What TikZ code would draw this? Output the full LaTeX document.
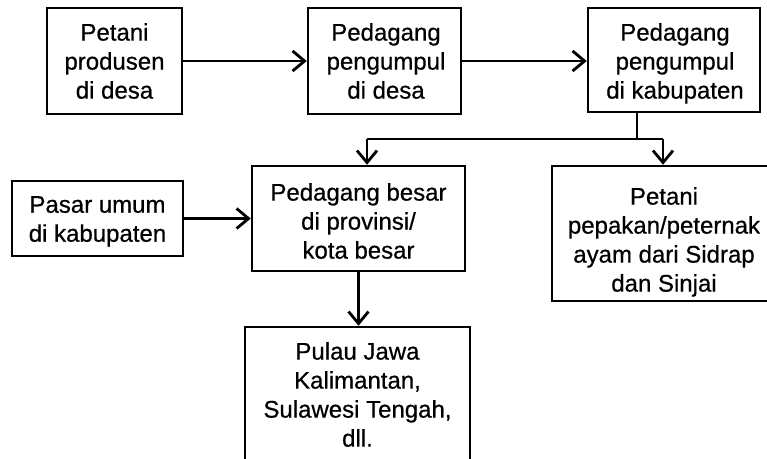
\documentclass[tikz,border=0pt]{standalone}
\usepackage{fontspec}
\setmainfont{Liberation Sans}
\newfontfamily\diagfont{Liberation Sans}[FakeBold=0.6]
\usetikzlibrary{arrows.meta}
\begin{document}
\begin{tikzpicture}[x=1pt,y=-1pt,
  box/.style={draw=black, line width=2.5pt, inner sep=0pt},
  txt/.style={inner sep=0pt, align=center, font=\diagfont\fontsize{24}{29}\selectfont, anchor=north},
  conn/.style={line width=2.8pt},
  arr/.style={conn, -{Straight Barb[length=12pt,width=20pt]}}]
\useasboundingbox (0,0) rectangle (767,458);
\clip (0,0) rectangle (767,458);
% boxes
\node[box, minimum width=135pt, minimum height=106pt] (b1) at (114.5,61) {};
\node[box, minimum width=153pt, minimum height=106pt] (b2) at (384.5,61) {};
\node[box, minimum width=172pt, minimum height=104pt] (b3) at (674,60) {};
\node[box, minimum width=171pt, minimum height=75pt] (b4) at (97.5,218.5) {};
\node[box, minimum width=213pt, minimum height=105pt] (b5) at (358.5,218.5) {};
\node[box, minimum width=224pt, minimum height=135pt] (b6) at (664,233.5) {};
\node[box, minimum width=225pt, minimum height=163pt] (b7) at (357.5,408.5) {};
% texts
\node[txt] (t1) at (114.5,23) {Petani\\produsen\\di desa};
\node[txt] (t2) at (386,23) {Pedagang\\pengumpul\\di desa};
\node[txt] (t3) at (675,23) {Pedagang\\pengumpul\\di kabupaten};
\node[txt] (t4) at (97.5,196) {Pasar umum\\di kabupaten};
\node[txt] (t5) at (358.5,183) {Pedagang besar\\di provinsi/\\kota besar};
\node[txt] (t6) at (664,187) {Petani\\pepakan/peternak\\ayam dari Sidrap\\dan Sinjai};
\node[txt] (t7) at (357.5,342) {Pulau Jawa\\Kalimantan,\\Sulawesi Tengah,\\dll.};
% connectors
\draw[arr] (b1.east) -- (b2.west);
\draw[arr] (b2.east) -- (b2.east -| b3.west);
\draw[arr] (b4.east) -- (b5.west);
\draw[arr] (b5.south) -- (b5.south |- b7.north);
\coordinate (j) at (637,139);
\coordinate (jl) at (367,139);
\coordinate (jr) at (663,139);
\draw[conn] (b3.south -| j) -- (j);
\draw[conn] (jl) -- (jr);
\draw[arr] (jl) -- (jl |- b5.north);
\draw[arr] (jr) -- (jr |- b6.north);
\end{tikzpicture}
\end{document}
